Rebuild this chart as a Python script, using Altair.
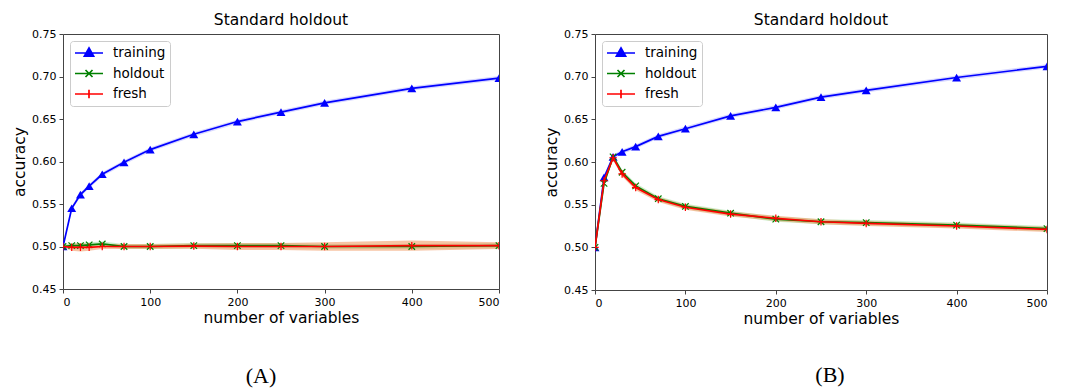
import altair as alt
import pandas as pd

# ---------------- data ----------------
x_vals = [0, 10, 20, 30, 45, 70, 100, 150, 200, 250, 300, 400, 500]

# Panel A
a_training = [0.500, 0.545, 0.561, 0.571, 0.585, 0.599, 0.614, 0.632, 0.647, 0.658, 0.669, 0.686, 0.698]
a_holdout = [0.500, 0.501, 0.501, 0.502, 0.503, 0.500, 0.500, 0.501, 0.501, 0.501, 0.500, 0.500, 0.501]
a_fresh = [0.500, 0.499, 0.499, 0.499, 0.500, 0.500, 0.500, 0.5005, 0.500, 0.500, 0.500, 0.501, 0.501]
a_training_sd = [0.001, 0.0025, 0.0025, 0.0025, 0.0025, 0.0025, 0.0025, 0.0025, 0.0025, 0.0025, 0.0025, 0.0025, 0.0025]
a_holdout_sd = [0.002, 0.003, 0.003, 0.003, 0.003, 0.003, 0.003, 0.003, 0.003, 0.003, 0.003, 0.003, 0.003]
a_fresh_sd = [0.001, 0.004, 0.005, 0.004, 0.003, 0.003, 0.003, 0.003, 0.004, 0.004, 0.005, 0.006, 0.004]

# Panel B
b_training = [0.500, 0.582, 0.606, 0.612, 0.618, 0.630, 0.639, 0.654, 0.664, 0.676, 0.684, 0.699, 0.712]
b_holdout = [0.500, 0.575, 0.606, 0.588, 0.572, 0.557, 0.548, 0.540, 0.533, 0.530, 0.529, 0.526, 0.522]
b_fresh = [0.500, 0.578, 0.605, 0.586, 0.570, 0.556, 0.547, 0.539, 0.534, 0.530, 0.528, 0.525, 0.521]
b_training_sd = [0.001, 0.0025, 0.0025, 0.0025, 0.0025, 0.0025, 0.0025, 0.0025, 0.0025, 0.0025, 0.0025, 0.0025, 0.0025]
b_holdout_sd = [0.002, 0.003, 0.003, 0.003, 0.003, 0.003, 0.003, 0.003, 0.003, 0.003, 0.003, 0.003, 0.003]
b_fresh_sd = [0.002, 0.003, 0.003, 0.003, 0.003, 0.003, 0.003, 0.003, 0.003, 0.003, 0.003, 0.003, 0.003]

series_names = ["training", "holdout", "fresh"]
line_colors = ["#0000ff", "#008000", "#ff0000"]
band_colors = ["#7b7bff", "#8fdc8f", "#f08a4b"]
band_opacity = [0.3, 0.45, 0.5]
legend_paths = [
    "M-1,0L1,0M0,-0.36L0.33,0.22L-0.33,0.22Z",
    "M-1,0L1,0M-0.25,-0.25L0.25,0.25M-0.25,0.25L0.25,-0.25",
    "M-1,0L1,0M0,-0.3L0,0.3",
]
marker_paths = [
    "triangle-up",
    "M-1,-1L1,1M-1,1L1,-1",
    "M-1,0L1,0M0,-1L0,1",
]
marker_sizes = [80, 42, 56]
marker_filled = [True, False, False]

captions = ["(A)", "(B)"]
FONT = "DejaVu Sans"


def build_df(train, hold, fresh, tsd, hsd, fsd):
    rows = []
    for name, vals, sds in [("training", train, tsd), ("holdout", hold, hsd), ("fresh", fresh, fsd)]:
        for x, v, s in zip(x_vals, vals, sds):
            rows.append({"x": x, "series": name, "y": v, "lo": v - s, "hi": v + s})
    return pd.DataFrame(rows)


def panel(df, caption, width, height, cap_x, cap_y):
    xenc = alt.X("x:Q", scale=alt.Scale(domain=[0, 500], nice=False),
                 axis=alt.Axis(values=[0, 100, 200, 300, 400, 500], title="number of variables"))
    yenc = alt.Y("y:Q", scale=alt.Scale(domain=[0.45, 0.75], nice=False, zero=False),
                 axis=alt.Axis(values=[0.45, 0.50, 0.55, 0.60, 0.65, 0.70, 0.75], format=".2f",
                               title="accuracy"))
    base = alt.Chart(df)
    layers = []
    for i, s in enumerate(series_names):
        b = base.transform_filter(alt.datum.series == s)
        layers.append(
            b.mark_area(color=band_colors[i], opacity=band_opacity[i], clip=True).encode(
                x=xenc, y=alt.Y("lo:Q"), y2="hi:Q")
        )
    for i, s in enumerate(series_names):
        b = base.transform_filter(alt.datum.series == s)
        layers.append(
            b.mark_line(color=line_colors[i], strokeWidth=1.7, clip=True).encode(x=xenc, y=yenc)
        )
        layers.append(
            b.mark_point(shape=marker_paths[i], filled=marker_filled[i], color=line_colors[i],
                         size=marker_sizes[i], strokeWidth=1.2, opacity=1, clip=True).encode(x=xenc, y=yenc)
        )
    # legend-only layer (no data rows, explicit domain)
    leg = alt.Legend(title=None, orient="top-left", offset=7, padding=4, strokeColor="#cccccc",
                     fillColor="white", cornerRadius=3, labelFontSize=13.5, labelFont=FONT,
                     labelColor="black", symbolSize=784, symbolStrokeWidth=1.7, labelOffset=9,
                     clipHeight=16, rowPadding=4.5)
    layers.append(
        base.transform_filter("datum.x < 0").mark_point(filled=True, size=784, strokeWidth=1.7, opacity=1).encode(
            x=xenc, y=yenc,
            fill=alt.Fill("series:N", scale=alt.Scale(domain=series_names, range=line_colors), legend=leg),
            stroke=alt.Stroke("series:N", scale=alt.Scale(domain=series_names, range=line_colors), legend=leg),
            shape=alt.Shape("series:N", scale=alt.Scale(domain=series_names, range=legend_paths), legend=leg),
        )
    )
    cap = alt.Chart(pd.DataFrame({"c": [caption]})).mark_text(
        font="Liberation Serif", fontSize=22, baseline="alphabetic", align="center", color="black"
    ).encode(text="c:N", x=alt.value(cap_x), y=alt.value(cap_y))
    layers.append(cap)
    return alt.layer(*layers).properties(
        width=width, height=height,
        title=alt.Title("Standard holdout", fontSize=15.5, font=FONT, fontWeight="normal", offset=0,
                        color="black", frame="group", anchor="middle"),
    )


df_a = build_df(a_training, a_holdout, a_fresh, a_training_sd, a_holdout_sd, a_fresh_sd)
df_b = build_df(b_training, b_holdout, b_fresh, b_training_sd, b_holdout_sd, b_fresh_sd)

pa = panel(df_a, captions[0], 436, 255, 198, 349)
pb = panel(df_b, captions[1], 452, 256, 235, 348)

chart = alt.hconcat(pa, pb, spacing=44).resolve_scale(
    fill="independent", stroke="independent", shape="independent"
).resolve_legend(fill="independent", stroke="independent", shape="independent").configure_view(
    stroke="#444444", strokeWidth=1
).configure_axis(
    domain=False, grid=False, tickColor="#444444", tickSize=4, tickWidth=1,
    labelFont=FONT, labelFontSize=11, labelColor="black", labelPadding=3,
    titleFont=FONT, titleFontSize=15.5, titleFontWeight="normal", titleColor="black",
).configure_axisX(titlePadding=3).configure_axisY(titlePadding=4).properties(padding=4)

chart.save("out.html", embed_options={"renderer": "svg", "actions": False})
